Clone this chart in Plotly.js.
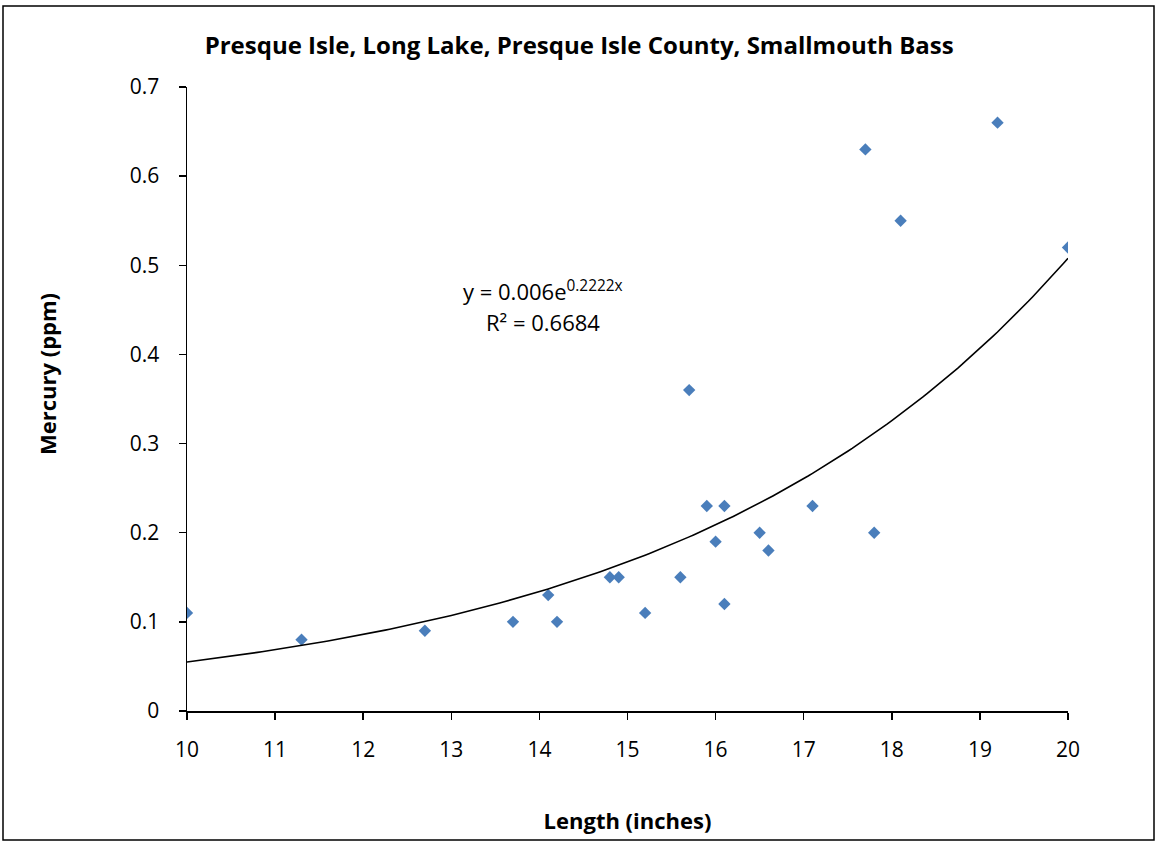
<!DOCTYPE html>
<html>
<head>
<meta charset="utf-8">
<script src="https://cdn.plot.ly/plotly-3.0.1.min.js"></script>
<style>
  html, body { margin: 0; padding: 0; background: #fff; }
  #chart { width: 1156px; height: 842px; }
</style>
</head>
<body>
<div id="chart"></div>
<script>
// Data
const lengthInches = [10.0, 11.3, 12.7, 13.7, 14.1, 14.2, 14.8, 14.9, 15.2, 15.6, 15.7, 15.9, 16.0, 16.1, 16.1, 16.5, 16.6, 17.1, 17.7, 17.8, 18.1, 19.2, 20.0];
const mercuryPpm   = [0.11, 0.08, 0.09, 0.10, 0.13, 0.10, 0.15, 0.15, 0.11, 0.15, 0.36, 0.23, 0.19, 0.23, 0.12, 0.20, 0.18, 0.23, 0.63, 0.20, 0.55, 0.66, 0.52];
const xTicks = [10, 11, 12, 13, 14, 15, 16, 17, 18, 19, 20];
const yTicks = [0, 0.1, 0.2, 0.3, 0.4, 0.5, 0.6, 0.7];
const trendEquation = 'y = 0.006e<sup>0.2222x</sup>';
const trendR2 = 'R² = 0.6684';
const yTitle = '<b>Mercury (ppm)</b>';

// Exponential least-squares fit (linear regression on ln y), like Excel's trendline
const n = lengthInches.length;
const lnY = mercuryPpm.map(v => Math.log(v));
const mx = lengthInches.reduce((a, b) => a + b, 0) / n;
const my = lnY.reduce((a, b) => a + b, 0) / n;
let sxy = 0, sxx = 0;
for (let i = 0; i < n; i++) { sxy += (lengthInches[i] - mx) * (lnY[i] - my); sxx += (lengthInches[i] - mx) ** 2; }
const b = sxy / sxx;
const a = Math.exp(my - b * mx);
const xMin = Math.min(...lengthInches), xMax = Math.max(...lengthInches);
const fitX = [], fitY = [];
for (let i = 0; i <= 200; i++) { const x = xMin + (xMax - xMin) * i / 200; fitX.push(x); fitY.push(a * Math.exp(b * x)); }

const FONT = '"Open Sans", "DejaVu Sans", sans-serif';

const traces = [
  {
    x: lengthInches, y: mercuryPpm, type: 'scatter', mode: 'markers',
    marker: { symbol: 'diamond', size: 9.5, color: '#4a7ebb' },
    hoverinfo: 'x+y', showlegend: false
  },
  {
    x: fitX, y: fitY, type: 'scatter', mode: 'lines',
    line: { color: '#000000', width: 1.6 },
    hoverinfo: 'skip', showlegend: false
  }
];

const layout = {
  width: 1156, height: 842,
  margin: { l: 187, r: 88, t: 87, b: 131 },
  paper_bgcolor: '#ffffff', plot_bgcolor: '#ffffff',
  font: { family: FONT, size: 21, color: '#000000' },
  title: {
    text: '<b>Presque Isle, Long Lake, Presque Isle County, Smallmouth Bass</b>',
    font: { family: FONT, size: 24, color: '#000000' },
    x: 0.501, xref: 'container', xanchor: 'center', y: 0.946, yref: 'container', yanchor: 'middle'
  },
  xaxis: {
    range: [10, 20], tickvals: xTicks, ticktext: xTicks.map(String),
    showgrid: false, zeroline: false, showline: true, linecolor: '#000000', linewidth: 1.5,
    ticks: 'outside', ticklen: 7, tickwidth: 1.5, tickcolor: '#000000',
    ticklabelstandoff: 12,
    tickfont: { family: FONT, size: 21, color: '#000000' },
    title: { text: '<b>Length (inches)</b>', font: { family: FONT, size: 22, color: '#000000' }, standoff: 52 }
  },
  yaxis: {
    range: [0, 0.7], tickvals: yTicks, ticktext: yTicks.map(v => v === 0 ? '0' : v.toFixed(1)),
    showgrid: false, zeroline: false, showline: true, linecolor: '#000000', linewidth: 1.5,
    ticks: 'outside', ticklen: 7, tickwidth: 1.5, tickcolor: '#000000',
    ticklabelstandoff: 15,
    tickfont: { family: FONT, size: 21, color: '#000000' }
  },
  annotations: [
    {
      x: 14.04, y: 0.4712, xref: 'x', yref: 'y', text: trendEquation, showarrow: false,
      align: 'center', xanchor: 'center', yanchor: 'middle',
      font: { family: FONT, size: 22, color: '#000000' }
    },
    {
      x: 14.04, y: 0.4364, xref: 'x', yref: 'y', text: trendR2, showarrow: false,
      align: 'center', xanchor: 'center', yanchor: 'middle',
      font: { family: FONT, size: 22, color: '#000000' }
    },
    {
      x: (47 - 187) / 881, y: (711 - 374) / 624, xref: 'paper', yref: 'paper', text: yTitle,
      showarrow: false, textangle: -90, xanchor: 'center', yanchor: 'middle',
      font: { family: FONT, size: 22, color: '#000000' }
    }
  ],
  shapes: [
    {
      type: 'rect', xref: 'paper', yref: 'paper',
      x0: (3 - 187) / 881, x1: (1154 - 187) / 881,
      y0: (711 - 840) / 624, y1: (711 - 6) / 624,
      line: { color: '#000000', width: 1.5 }, fillcolor: 'rgba(0,0,0,0)', layer: 'below'
    }
  ]
};

Plotly.newPlot('chart', traces, layout, { displayModeBar: false, staticPlot: true });
</script>
</body>
</html>
